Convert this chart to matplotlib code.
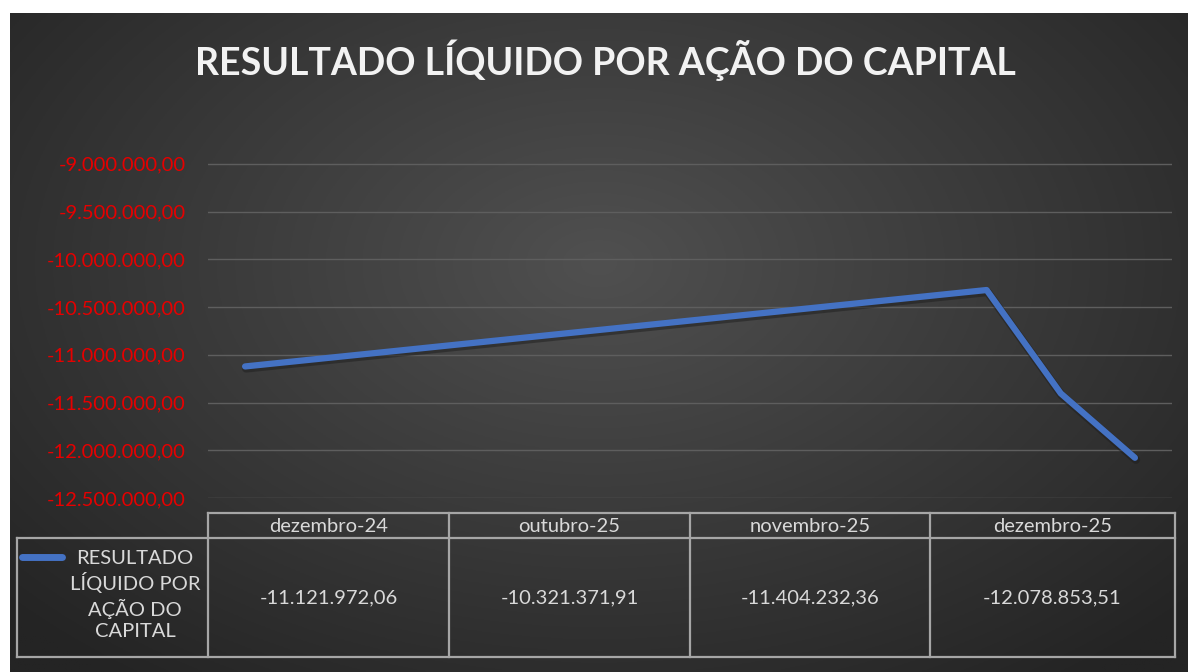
import numpy as np
import matplotlib
matplotlib.use("Agg")
import matplotlib.pyplot as plt
from matplotlib.ticker import FuncFormatter
from matplotlib.transforms import ScaledTranslation

# dados
meses = ["dezembro-24", "outubro-25", "novembro-25", "dezembro-25"]
mes_idx = [0, 10, 11, 12]  # meses desde dezembro-24 (eixo de datas)
valores = [-11121972.06, -10321371.91, -11404232.36, -12078853.51]
serie = "RESULTADO\nLÍQUIDO POR\nAÇÃO DO\nCAPITAL"
titulo = "RESULTADO LÍQUIDO POR AÇÃO DO CAPITAL"
yticks = [-9e6, -9.5e6, -10e6, -10.5e6, -11e6, -11.5e6, -12e6, -12.5e6]

W, H = 1188, 672
plt.rcParams['font.family'] = ['Lato', 'DejaVu Sans']


def br(v, pos=None):
    s = f"{v:,.2f}"
    return s.replace(",", "X").replace(".", ",").replace("X", ".")


fig = plt.figure(figsize=(W / 100, H / 100), dpi=100)
fig.patch.set_facecolor("white")

# fundo com gradiente radial
bg = fig.add_axes([10 / W, 0, 1 - 10 / W, 1 - 13 / H])
yy, xx = np.mgrid[0:1:300j, 0:1:500j]
r = np.sqrt(((xx - 0.5) / 0.65) ** 2 + ((yy - 0.38) / 0.75) ** 2)
g = np.clip(80 - 42 * r, 36, 82) / 255
bg.imshow(np.dstack([g, g, g]), aspect="auto", extent=[0, 1, 1, 0])
bg.set_axis_off()

# overlay em pixels
ov = fig.add_axes([0, 0, 1, 1], zorder=3)
ov.set_xlim(0, W)
ov.set_ylim(H, 0)
ov.set_axis_off()
ov.patch.set_alpha(0)

ov.text(605, 60, titulo, ha="center", va="center", fontsize=27,
        fontweight="bold", color="#f2f2f2")

# gráfico de linha
ax = fig.add_axes([208 / W, 1 - 498 / H, (1172 - 208) / W, (498 - 140) / H], zorder=2)
ax.patch.set_alpha(0)
sombra = ax.transData + ScaledTranslation(1 / 100, -2 / 100, fig.dpi_scale_trans)
ax.plot(mes_idx, valores, color="#1e1e1e", lw=6, alpha=0.5,
        solid_capstyle="round", solid_joinstyle="round", zorder=2, transform=sombra)
ax.plot(mes_idx, valores, color="#4472c4", lw=4.5,
        solid_capstyle="round", solid_joinstyle="round", zorder=3)
ax.set_xlim(-0.5, 12.5)
ax.set_ylim(-12.5e6, -8.75e6)
ax.set_yticks(yticks)
ax.yaxis.set_major_formatter(FuncFormatter(br))
ax.tick_params(axis="y", length=0, pad=16, labelsize=14.5, labelcolor="#e60000")
ax.set_xticks([])
for s in ax.spines.values():
    s.set_visible(False)
ax.grid(axis="y", color="#5e5e5e", lw=1)

# tabela de dados
lc = "#a6a6a6"
cols = [208, 449, 690, 930, 1175]
ov.plot([208, 1175], [513, 513], color=lc, lw=1.6)
ov.plot([17, 1175], [538, 538], color=lc, lw=1.6)
ov.plot([17, 1175], [657, 657], color=lc, lw=1.6)
ov.plot([17, 17], [538, 657], color=lc, lw=1.6)
for x in cols:
    ov.plot([x, x], [513, 657], color=lc, lw=1.6)
for i, (m, v) in enumerate(zip(meses, valores)):
    xc = (cols[i] + cols[i + 1]) / 2
    ov.text(xc, 526, m, ha="center", va="center", fontsize=14.5, color="#d9d9d9")
    ov.text(xc, 598, br(v), ha="center", va="center", fontsize=14.5, color="#d9d9d9")

ov.plot([22, 62], [557, 557], color="#4472c4", lw=5, solid_capstyle="round")
ov.text(135, 595, serie, ha="center", va="center", fontsize=14.5,
        color="#d9d9d9", linespacing=1.32)

fig.savefig("out.png", dpi=100, facecolor=fig.get_facecolor())
